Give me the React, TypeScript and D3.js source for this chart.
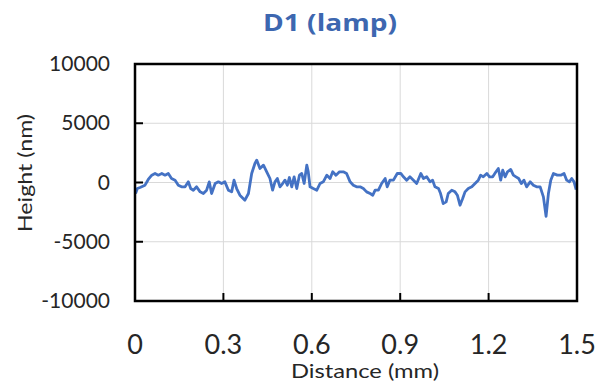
import React, { useEffect, useRef } from 'react';
import * as d3 from 'd3';

// profile: distance (mm) and height (nm)
const distance = [
  0.002, 0.008, 0.017, 0.034, 0.045, 0.057, 0.068, 0.079, 0.091, 0.102, 0.113, 0.124, 0.136, 0.147,
  0.158, 0.170, 0.181, 0.189, 0.198, 0.209, 0.221, 0.232, 0.243, 0.252, 0.260, 0.272, 0.283, 0.294,
  0.305, 0.317, 0.328, 0.336, 0.345, 0.356, 0.373, 0.385, 0.396, 0.407, 0.413, 0.424, 0.436, 0.447,
  0.458, 0.467, 0.475, 0.483, 0.492, 0.501, 0.509, 0.517, 0.524, 0.532, 0.540, 0.549, 0.558, 0.566,
  0.574, 0.583, 0.588, 0.594, 0.605, 0.617, 0.628, 0.639, 0.651, 0.662, 0.671, 0.682, 0.694, 0.707,
  0.718, 0.730, 0.741, 0.752, 0.764, 0.775, 0.786, 0.798, 0.807, 0.815, 0.826, 0.837, 0.849, 0.856,
  0.865, 0.877, 0.890, 0.902, 0.911, 0.922, 0.933, 0.945, 0.956, 0.970, 0.979, 0.990, 1.001, 1.010,
  1.018, 1.030, 1.037, 1.046, 1.056, 1.063, 1.075, 1.086, 1.094, 1.103, 1.112, 1.120, 1.131, 1.143,
  1.154, 1.165, 1.173, 1.182, 1.194, 1.203, 1.214, 1.225, 1.233, 1.241, 1.248, 1.256, 1.264, 1.275,
  1.284, 1.293, 1.302, 1.311, 1.320, 1.329, 1.341, 1.352, 1.363, 1.375, 1.386, 1.395, 1.403, 1.411,
  1.420, 1.433, 1.445, 1.456, 1.465, 1.474, 1.482, 1.490, 1.497
];
const height = [
  -930, -508, -423, -226, 254, 620, 761, 620, 761, 620, 761, 338, 197, -226,
  -367, -367, 56, -508, -649, -367, -790, -930, -649, 56, -930, -85, 56, -85,
  56, -649, -790, 197, -508, -1072, -1495, -930, 761, 1607, 1889, 1184, 1466, 902,
  338, -649, 56, 338, -367, -85, 197, -226, 423, -367, 479, -508, 620, 761,
  -85, 1466, 902, -367, -508, -649, -85, 56, 620, 338, 902, 620, 902, 902,
  761, 56, -226, -367, -367, -508, -790, -930, -1072, -649, -649, -85, 338, -367,
  197, 197, 761, 761, 479, 197, 479, 197, -85, 761, 338, 479, 56, 197,
  -367, -508, -930, -1777, -1636, -930, -649, -790, -1072, -1918, -1354, -790, -508, -367,
  -85, 197, 620, 479, 761, 479, 479, 902, 1184, 197, 1043, 479, 902, 1100,
  620, 479, 338, -85, 197, -367, 56, -226, -367, -367, -1213, -2848, -930, 197,
  761, 620, 620, 761, 197, 56, 338, 56, -592
];
const xTicks = [0, 0.3, 0.6, 0.9, 1.2, 1.5];
const yTicks = [-10000, -5000, 0, 5000, 10000];

const W = 602;
const H = 383;

const Chart = () => {
  const ref = useRef(null);

  useEffect(() => {
    const svg = d3.select(ref.current);
    svg.selectAll('*').remove();

    const left = 135, right = 577, top = 64, bottom = 301;
    const font = 'Lato, sans-serif';
    const ink = '#262626';

    const x = d3.scaleLinear().domain([0, 1.5]).range([left, right]);
    const y = d3.scaleLinear().domain([-10000, 10000]).range([bottom, top]);

    // grid
    svg.append('g')
      .selectAll('line')
      .data(xTicks.slice(1, -1))
      .join('line')
      .attr('x1', d => x(d)).attr('x2', d => x(d))
      .attr('y1', top).attr('y2', bottom)
      .attr('stroke', '#d9d9d9').attr('stroke-width', 1);
    svg.append('g')
      .selectAll('line')
      .data(yTicks.slice(1, -1))
      .join('line')
      .attr('x1', left).attr('x2', right)
      .attr('y1', d => y(d)).attr('y2', d => y(d))
      .attr('stroke', '#d9d9d9').attr('stroke-width', 1);

    const pts = distance.map((d, i) => [d, height[i]]);
    const line = d3.line()
      .x(d => x(d[0]))
      .y(d => y(d[1]))
      .curve(d3.curveLinear);

    svg.append('path')
      .datum(pts)
      .attr('fill', 'none')
      .attr('stroke', '#4472c4')
      .attr('stroke-width', 2.8)
      .attr('stroke-linejoin', 'round')
      .attr('d', line);

    // inward ticks
    svg.append('g')
      .selectAll('line')
      .data(xTicks)
      .join('line')
      .attr('x1', d => x(d)).attr('x2', d => x(d))
      .attr('y1', bottom).attr('y2', bottom - 8)
      .attr('stroke', '#000').attr('stroke-width', 2);
    svg.append('g')
      .selectAll('line')
      .data(yTicks)
      .join('line')
      .attr('x1', left).attr('x2', left + 8)
      .attr('y1', d => y(d)).attr('y2', d => y(d))
      .attr('stroke', '#000').attr('stroke-width', 2);

    // frame
    svg.append('rect')
      .attr('x', left).attr('y', top)
      .attr('width', right - left).attr('height', bottom - top)
      .attr('fill', 'none')
      .attr('stroke', '#000')
      .attr('stroke-width', 2.5);

    // tick labels
    svg.append('g')
      .selectAll('text')
      .data(yTicks)
      .join('text')
      .attr('x', 110)
      .attr('y', d => y(d) + 7)
      .attr('text-anchor', 'end')
      .attr('font-family', font)
      .attr('font-size', 21)
      .attr('fill', ink)
      .text(d => String(d));

    svg.append('g')
      .selectAll('text')
      .data(xTicks)
      .join('text')
      .attr('x', d => x(d))
      .attr('y', 354)
      .attr('text-anchor', 'middle')
      .attr('font-family', font)
      .attr('font-size', 27)
      .attr('fill', ink)
      .text(d => String(d));

    svg.append('text')
      .attr('x', 365)
      .attr('y', 378)
      .attr('text-anchor', 'middle')
      .attr('font-family', font)
      .attr('font-size', 20)
      .attr('textLength', 148)
      .attr('lengthAdjust', 'spacingAndGlyphs')
      .attr('fill', ink)
      .text('Distance (mm)');

    svg.append('text')
      .attr('transform', 'translate(32,173) rotate(-90)')
      .attr('text-anchor', 'middle')
      .attr('font-family', font)
      .attr('font-size', 20)
      .attr('textLength', 118)
      .attr('lengthAdjust', 'spacingAndGlyphs')
      .attr('fill', ink)
      .text('Height (nm)');

    svg.append('text')
      .attr('x', 330)
      .attr('y', 31)
      .attr('text-anchor', 'middle')
      .attr('font-family', '"Open Sans", sans-serif')
      .attr('font-weight', 'bold')
      .attr('font-size', 23)
      .attr('textLength', 134)
      .attr('lengthAdjust', 'spacingAndGlyphs')
      .attr('fill', '#3d67b0')
      .text('D1 (lamp)');
  }, []);

  return <svg ref={ref} width={W} height={H} style={{ position: 'absolute', left: 0, top: 0, background: '#fff' }} />;
};

export default function App() {
  return <Chart />;
}
